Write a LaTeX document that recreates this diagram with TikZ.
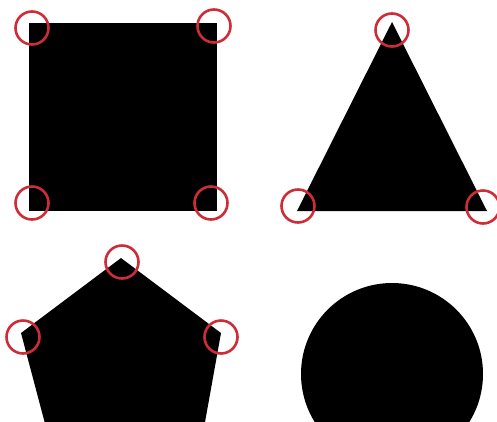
\documentclass[tikz,border=0pt]{standalone}
\definecolor{mark}{RGB}{205,45,55}
\begin{document}
\begin{tikzpicture}[x=1pt,y=-1pt,
  ring/.style={draw=mark,line width=2.6pt},
  solid shape/.style={fill=black,draw=none}]
\useasboundingbox (0,0) rectangle (497,421);
\clip (0,0) rectangle (497,421);
% square
\fill[solid shape] (29,23) rectangle (217,211);
% triangle
\coordinate (ta) at (392,22);
\coordinate (tb) at (297,211);
\coordinate (tc) at (487,211);
\fill[solid shape] (ta) -- (tc) -- (tb) -- cycle;
% pentagon
\coordinate (pa) at (121,258);
\coordinate (pb) at (221,333);
\coordinate (pc) at (200,450);
\coordinate (pd) at (52,450);
\coordinate (pe) at (21,333);
\fill[solid shape] (pa) -- (pb) -- (pc) -- (pd) -- (pe) -- cycle;
% circle
\fill[solid shape] (392,374) circle (91);
% marker rings
\foreach \p in {(32,28),(214,26),(32,203),(211,203),
                (392,30),(298,206),(483,207),
                (122,262),(23,337),(221,337)}
  \draw[ring] \p circle (16.5);
\end{tikzpicture}
\end{document}
